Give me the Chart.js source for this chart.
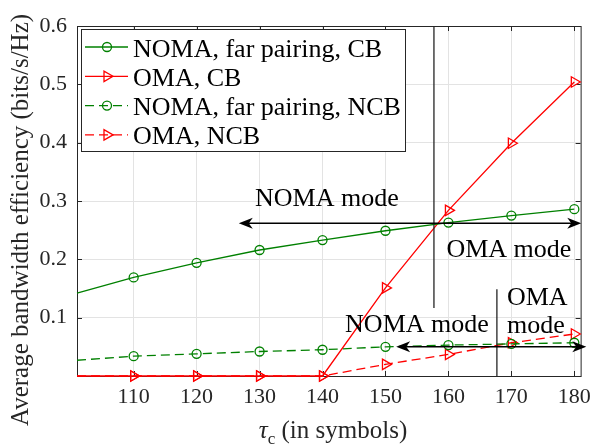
<!DOCTYPE html>
<html>
<head>
<meta charset="utf-8">
<script src="https://cdn.jsdelivr.net/npm/chart.js@4.4.1/dist/chart.umd.min.js"></script>
<style>
  html, body { margin: 0; padding: 0; background: #fff; }
</style>
</head>
<body>
<canvas id="chart" width="599" height="446"></canvas>
<script>
// values
const tau = [101, 110, 120, 130, 140, 150, 160, 170, 180];
const nomaFarCB = [0.142, 0.169, 0.194, 0.216, 0.233, 0.249, 0.263, 0.275, 0.286];
const omaCB = [0, 0, 0, 0, 0, 0.151, 0.284, 0.399, 0.504];
const nomaFarNCB = [0.027, 0.034, 0.038, 0.042, 0.045, 0.050, 0.053, 0.055, 0.057];
const omaNCB = [0, 0, 0, 0, 0, 0.020, 0.037, 0.057, 0.072];
const seriesNames = ["NOMA, far pairing, CB", "OMA, CB", "NOMA, far pairing, NCB", "OMA, NCB"];
const xTicks = [110, 120, 130, 140, 150, 160, 170, 180];
const yTicks = [0.1, 0.2, 0.3, 0.4, 0.5, 0.6];

// switching points between NOMA and OMA modes
const switchCB = 157.7;
const switchNCB = 167.7;

const serif = "'Liberation Serif', 'Times New Roman', serif";
const green = "#008000";
const red = "#ff0000";
const axisColor = "#262626";

function pts(ys) {
  return tau.map((x, i) => ({ x: x, y: ys[i] }));
}
const radii = tau.map((x, i) => (i === 0 ? 0 : 4.5));
const triRadii = tau.map((x, i) => (i === 0 ? 0 : 6));

function arrowHead(ctx, x, y, dir) {
  ctx.beginPath();
  ctx.moveTo(x, y);
  ctx.lineTo(x - dir * 14, y - 5.5);
  ctx.lineTo(x - dir * 10, y);
  ctx.lineTo(x - dir * 14, y + 5.5);
  ctx.closePath();
  ctx.fill();
}

function marker(ctx, kind, x, y, color) {
  ctx.strokeStyle = color;
  ctx.lineWidth = 1.3;
  ctx.beginPath();
  if (kind === "circle") {
    ctx.arc(x, y, 4.5, 0, Math.PI * 2);
  } else {
    ctx.moveTo(x + 6, y);
    ctx.lineTo(x - 3, y - 5.2);
    ctx.lineTo(x - 3, y + 5.2);
    ctx.closePath();
  }
  ctx.stroke();
}

const overlay = {
  id: "overlay",
  beforeDatasetsDraw(chart) {
    const ctx = chart.ctx;
    const a = chart.chartArea;
    const xs = chart.scales.x, ys = chart.scales.y;
    ctx.save();
    ctx.strokeStyle = axisColor;
    ctx.lineWidth = 1;
    ctx.strokeRect(a.left + 0.5, a.top + 0.5, a.right - a.left, a.bottom - a.top);
    ctx.beginPath();
    xTicks.forEach(v => {
      const px = Math.round(xs.getPixelForValue(v)) + 0.5;
      ctx.moveTo(px, a.bottom); ctx.lineTo(px, a.bottom - 5);
      ctx.moveTo(px, a.top); ctx.lineTo(px, a.top + 5);
    });
    yTicks.forEach(v => {
      const py = Math.round(ys.getPixelForValue(v)) + 0.5;
      ctx.moveTo(a.left, py); ctx.lineTo(a.left + 5, py);
      ctx.moveTo(a.right, py); ctx.lineTo(a.right - 5, py);
    });
    ctx.stroke();
    ctx.restore();
  },
  afterDatasetsDraw(chart) {
    const ctx = chart.ctx;
    const a = chart.chartArea;
    const xs = chart.scales.x, ys = chart.scales.y;
    const X = v => xs.getPixelForValue(v);
    const Y = v => ys.getPixelForValue(v);
    ctx.save();

    // mode boundaries
    ctx.strokeStyle = axisColor;
    ctx.lineWidth = 1.3;
    ctx.beginPath();
    ctx.moveTo(X(switchCB), a.top);
    ctx.lineTo(X(switchCB), Y(0.1166));
    ctx.moveTo(X(switchNCB), Y(0.1486));
    ctx.lineTo(X(switchNCB), a.bottom);
    ctx.stroke();

    // double arrows
    ctx.strokeStyle = "#000";
    ctx.fillStyle = "#000";
    ctx.lineWidth = 1.5;
    const arrows = [[126.7, 181.1, 0.2618], [151.7, 181.9, 0.0502]];
    arrows.forEach(([x0, x1, yv]) => {
      const y = Y(yv);
      ctx.beginPath();
      ctx.moveTo(X(x0) + 8, y);
      ctx.lineTo(X(x1) - 8, y);
      ctx.stroke();
      arrowHead(ctx, X(x0), y, -1);
      arrowHead(ctx, X(x1), y, 1);
    });

    // mode labels
    ctx.font = "26px " + serif;
    ctx.textBaseline = "alphabetic";
    ctx.textAlign = "center";
    ctx.fillText("NOMA mode", X(140.7), Y(0.2914));
    ctx.fillText("OMA mode", X(169.6), Y(0.204));
    ctx.fillText("NOMA mode", X(155.0), Y(0.0754));
    ctx.textAlign = "left";
    ctx.fillText("OMA", X(169.3), Y(0.1217));
    ctx.fillText("mode", X(169.3), Y(0.0737));

    // legend
    const lx = 81.5, ly = 29.5, lw = 324, lh = 122;
    ctx.fillStyle = "#fff";
    ctx.fillRect(lx, ly, lw, lh);
    ctx.strokeStyle = axisColor;
    ctx.lineWidth = 1;
    ctx.strokeRect(lx, ly, lw, lh);
    const styles = [
      [green, [], "circle"],
      [red, [], "tri"],
      [green, [9, 5], "circle"],
      [red, [9, 5], "tri"]
    ];
    seriesNames.forEach((name, i) => {
      const cy = 47 + i * 29.3;
      const [color, dash, kind] = styles[i];
      ctx.strokeStyle = color;
      ctx.lineWidth = 1.3;
      ctx.setLineDash(dash);
      ctx.beginPath();
      ctx.moveTo(85, cy);
      ctx.lineTo(128, cy);
      ctx.stroke();
      ctx.setLineDash([]);
      marker(ctx, kind, 107, cy, color);
      ctx.fillStyle = "#000";
      ctx.textAlign = "left";
      ctx.fillText(name, 133, cy + 9.5);
    });
    ctx.restore();
  },
  afterDraw(chart) {
    const ctx = chart.ctx;
    ctx.save();
    ctx.fillStyle = axisColor;
    // y axis title
    ctx.font = "25px " + serif;
    ctx.translate(28, 220);
    ctx.rotate(-Math.PI / 2);
    ctx.textAlign = "center";
    ctx.textBaseline = "alphabetic";
    ctx.fillText("Average bandwidth efficiency (bits/s/Hz)", 0, 0);
    ctx.restore();

    // x axis title with subscript
    ctx.save();
    ctx.fillStyle = axisColor;
    ctx.textBaseline = "alphabetic";
    ctx.textAlign = "left";
    const base = 438;
    ctx.font = "italic 25px " + serif;
    const wTau = ctx.measureText("\u03c4").width;
    ctx.font = "17px " + serif;
    const wSub = ctx.measureText("c").width;
    ctx.font = "25px " + serif;
    const rest = " (in symbols)";
    const wRest = ctx.measureText(rest).width;
    let x = 333 - (wTau + wSub + wRest) / 2;
    ctx.font = "italic 25px " + serif;
    ctx.fillText("\u03c4", x, base);
    x += wTau;
    ctx.font = "17px " + serif;
    ctx.fillText("c", x, base + 6);
    x += wSub;
    ctx.font = "25px " + serif;
    ctx.fillText(rest, x, base);
    ctx.restore();
  }
};

new Chart(document.getElementById("chart"), {
  type: "line",
  data: {
    datasets: [
      {
        label: seriesNames[0], data: pts(nomaFarCB),
        borderColor: green, backgroundColor: "transparent", borderWidth: 1.3,
        pointStyle: "circle", pointRadius: radii, pointBorderWidth: 1.3,
        pointBorderColor: green, pointBackgroundColor: "transparent", clip: false
      },
      {
        label: seriesNames[1], data: pts(omaCB),
        borderColor: red, backgroundColor: "transparent", borderWidth: 1.3,
        pointStyle: "triangle", pointRotation: 90, pointRadius: triRadii, pointBorderWidth: 1.3,
        pointBorderColor: red, pointBackgroundColor: "transparent", clip: false
      },
      {
        label: seriesNames[2], data: pts(nomaFarNCB),
        borderColor: green, backgroundColor: "transparent", borderWidth: 1.3, borderDash: [9, 5],
        pointStyle: "circle", pointRadius: radii, pointBorderWidth: 1.3,
        pointBorderColor: green, pointBackgroundColor: "transparent", clip: false
      },
      {
        label: seriesNames[3], data: pts(omaNCB),
        borderColor: red, backgroundColor: "transparent", borderWidth: 1.3, borderDash: [9, 5],
        pointStyle: "triangle", pointRotation: 90, pointRadius: triRadii, pointBorderWidth: 1.3,
        pointBorderColor: red, pointBackgroundColor: "transparent", clip: false
      }
    ]
  },
  options: {
    responsive: false,
    animation: false,
    layout: { padding: { left: 0, top: 26, right: 14, bottom: 0 } },
    plugins: { legend: { display: false }, tooltip: { enabled: false } },
    elements: { line: { tension: 0 } },
    scales: {
      x: {
        type: "linear",
        min: 101, max: 181,
        afterBuildTicks: s => { s.ticks = xTicks.map(v => ({ value: v })); },
        afterFit: s => { s.height = 70; },
        grid: { color: "#e3e3e3", drawTicks: false },
        border: { display: false },
        ticks: { color: axisColor, font: { family: serif, size: 22 }, padding: 8, maxRotation: 0 }
      },
      y: {
        min: 0, max: 0.6,
        afterBuildTicks: s => { s.ticks = yTicks.map(v => ({ value: v })); },
        afterFit: s => { s.width = 77; },
        grid: { color: "#e3e3e3", drawTicks: false },
        border: { display: false },
        ticks: { color: axisColor, font: { family: serif, size: 22 }, padding: 10, callback: v => v.toFixed(1) }
      }
    }
  },
  plugins: [overlay]
});
</script>
</body>
</html>
